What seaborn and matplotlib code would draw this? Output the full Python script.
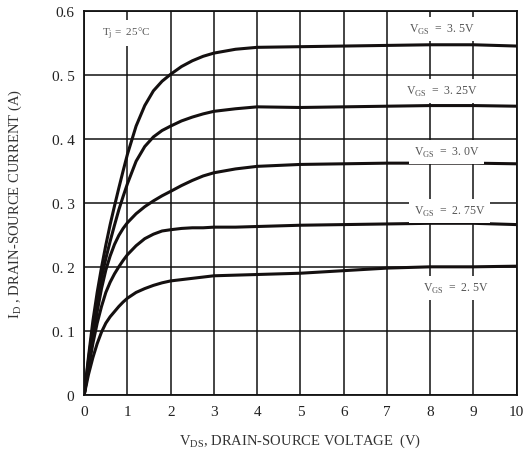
import pandas as pd
import matplotlib.pyplot as plt
import seaborn as sns

vds = [0, 0.1, 0.2, 0.3, 0.4, 0.5, 0.6, 0.7, 0.8, 0.9, 1.0, 1.2, 1.4, 1.6, 1.8, 2.0,
       2.25, 2.5, 2.75, 3.0, 3.5, 4, 5, 6, 7, 8, 9, 10]

id_350 = [0, 0.06, 0.115, 0.16, 0.199, 0.234, 0.266, 0.295, 0.323, 0.35, 0.376, 0.42, 0.452, 0.475,
          0.49, 0.501, 0.513, 0.522, 0.529, 0.534, 0.540, 0.543, 0.544, 0.545, 0.546, 0.547, 0.547, 0.545]
id_325 = [0, 0.055, 0.105, 0.148, 0.183, 0.213, 0.24, 0.265, 0.289, 0.31, 0.33, 0.365, 0.388, 0.403,
          0.413, 0.42, 0.428, 0.434, 0.439, 0.443, 0.447, 0.45, 0.449, 0.45, 0.451, 0.452, 0.452, 0.451]
id_300 = [0, 0.045, 0.088, 0.13, 0.166, 0.195, 0.217, 0.235, 0.249, 0.26, 0.269, 0.283, 0.294, 0.303,
          0.311, 0.318, 0.327, 0.335, 0.342, 0.347, 0.353, 0.357, 0.36, 0.361, 0.362, 0.362, 0.362, 0.361]
id_275 = [0, 0.042, 0.08, 0.112, 0.138, 0.16, 0.176, 0.189, 0.2, 0.21, 0.219, 0.233, 0.244, 0.251,
          0.256, 0.258, 0.26, 0.261, 0.261, 0.262, 0.262, 0.263, 0.265, 0.266, 0.267, 0.268, 0.268, 0.266]
id_250 = [0, 0.032, 0.058, 0.08, 0.098, 0.112, 0.122, 0.13, 0.138, 0.145, 0.151, 0.16, 0.166, 0.171,
          0.175, 0.178, 0.18, 0.182, 0.184, 0.186, 0.187, 0.188, 0.19, 0.194, 0.198, 0.2, 0.2, 0.201]

vgs_names = ['3.5', '3.25', '3.0', '2.75', '2.5']
label_texts = ['3. 5V', '3. 25V', '3. 0V', '2. 75V', '2. 5V']
label_x = [8.28, 8.28, 8.38, 8.45, 8.6]
label_y = [0.572, 0.475, 0.38, 0.2875, 0.167]

curves = [id_350, id_325, id_300, id_275, id_250]
rows = []
for name, vals in zip(vgs_names, curves):
    for v, i in zip(vds, vals):
        rows.append({'VDS': v, 'ID': i, 'VGS': name})
df = pd.DataFrame(rows)

sns.set_style('white')
plt.rcParams['font.family'] = ['Liberation Serif', 'DejaVu Serif']
plt.rcParams['mathtext.fontset'] = 'custom'
plt.rcParams['mathtext.rm'] = 'Liberation Serif'

fig = plt.figure(figsize=(5.23, 4.56), dpi=100)
ax = fig.add_axes([0.161, 0.132, 0.827, 0.842])

sns.lineplot(data=df, x='VDS', y='ID', hue='VGS', palette=['#141010'] * 5,
             linewidth=2.2, legend=False, ax=ax, zorder=3)

ax.set_xlim(0, 10)
ax.set_ylim(0, 0.6)
ax.set_xticks(range(0, 11))
ax.set_xticklabels([str(i) for i in range(0, 11)])
ax.set_yticks([0, 0.1, 0.2, 0.3, 0.4, 0.5, 0.6])
ax.set_yticklabels(['0', '0. 1', '0. 2', '0. 3', '0. 4', '0. 5', '0.6'])
ax.tick_params(axis='both', length=0, labelsize=11, colors='#222222', pad=7)
ax.grid(True, color='#111111', linewidth=1.1)
for s in ax.spines.values():
    s.set_color('#111111')
    s.set_linewidth(1.3)

box = dict(facecolor='white', edgecolor='none', pad=3.5)
for lx, ly, t in zip(label_x, label_y, label_texts):
    ax.text(lx, ly, r'V$_{\rm GS}$  =  ' + t, ha='center', va='center',
            fontsize=8.5, color='#555555', bbox=box, zorder=4)
ax.text(0.97, 0.566, r'T$_{\rm j}$ =  25°C', ha='center', va='center',
        fontsize=8, color='#555555', bbox=box, zorder=4)

ax.set_xlabel(r'V$_{\rm DS}$, DRAIN-SOURCE VOLTAGE  (V)', fontsize=10.5, color='#333333', labelpad=10)
ax.set_ylabel(r'I$_{\rm D}$ , DRAIN-SOURCE CURRENT (A)', fontsize=10.5, color='#333333', labelpad=20)

fig.savefig('out.png', dpi=100)
